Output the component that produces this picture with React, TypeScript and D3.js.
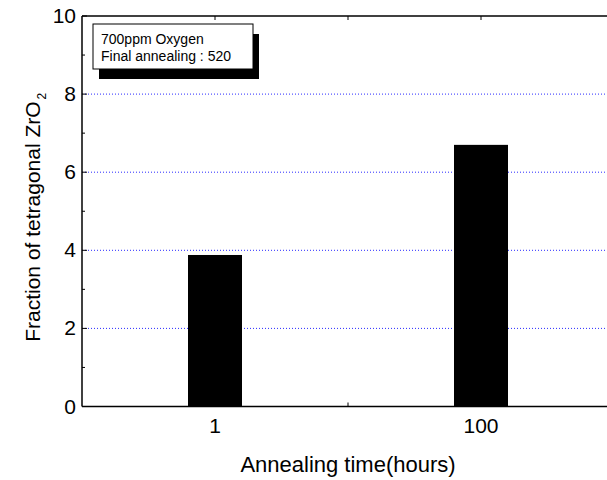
import React, { useEffect, useRef } from 'react';
import * as d3 from 'd3';

const categories = ['1', '100'];
const positions = [1, 3];
const fractions = [3.88, 6.7];
const yTicks = [0, 2, 4, 6, 8, 10];
const gridValues = [2, 4, 6, 8];
const legendLines = ['700ppm Oxygen', 'Final annealing : 520'];

const App = () => {
    const svgRef = useRef<SVGSVGElement>(null);

    useEffect(() => {
        const width = 607;
        const height = 480;
        const left = 82;
        const top = 16;
        const bottom = 406.5;
        const font = 'Arial, "Liberation Sans", sans-serif';

        const svg = d3.select(svgRef.current)
            .attr('width', width)
            .attr('height', height);
        svg.selectAll('*').remove();

        const x = d3.scaleLinear().domain([0, 4]).range([left, 614]);
        const y = d3.scaleLinear().domain([0, 10]).range([bottom, top]);
        const barW = 54;

        // grid lines
        svg.selectAll('.grid')
            .data(gridValues)
            .join('line')
            .attr('x1', left)
            .attr('x2', width)
            .attr('y1', d => y(d))
            .attr('y2', d => y(d))
            .attr('stroke', '#2a2aff')
            .attr('stroke-width', 1)
            .attr('stroke-dasharray', '1,2');

        // bars
        svg.selectAll('.bar')
            .data(fractions)
            .join('rect')
            .attr('x', (d, i) => x(positions[i]) - barW / 2)
            .attr('y', d => y(d))
            .attr('width', barW)
            .attr('height', d => bottom - y(d))
            .attr('fill', '#000');

        // frame
        svg.append('line')
            .attr('x1', left).attr('x2', width)
            .attr('y1', top).attr('y2', top)
            .attr('stroke', '#000').attr('stroke-width', 1.5);
        svg.append('line')
            .attr('x1', left).attr('x2', width)
            .attr('y1', bottom).attr('y2', bottom)
            .attr('stroke', '#000').attr('stroke-width', 1.5);
        svg.append('line')
            .attr('x1', left).attr('x2', left)
            .attr('y1', top).attr('y2', bottom)
            .attr('stroke', '#000').attr('stroke-width', 1.5);

        // y ticks (inside)
        const minor = d3.range(1, 10, 2);
        svg.selectAll('.ymaj')
            .data(yTicks)
            .join('line')
            .attr('x1', left).attr('x2', left + 5)
            .attr('y1', d => y(d)).attr('y2', d => y(d))
            .attr('stroke', '#000').attr('stroke-width', 1);
        svg.selectAll('.ymin')
            .data(minor)
            .join('line')
            .attr('x1', left).attr('x2', left + 3)
            .attr('y1', d => y(d)).attr('y2', d => y(d))
            .attr('stroke', '#000').attr('stroke-width', 1);

        svg.selectAll('.ylab')
            .data(yTicks)
            .join('text')
            .attr('x', left - 6)
            .attr('y', d => y(d) + 7)
            .attr('text-anchor', 'end')
            .style('font-family', font)
            .style('font-size', '21px')
            .text(d => d);

        // x ticks top and bottom
        const xt = [1, 2, 3];
        svg.selectAll('.xtb')
            .data(xt)
            .join('line')
            .attr('x1', d => x(d)).attr('x2', d => x(d))
            .attr('y1', bottom).attr('y2', bottom - 4)
            .attr('stroke', '#000').attr('stroke-width', 1);
        svg.selectAll('.xtt')
            .data(xt)
            .join('line')
            .attr('x1', d => x(d)).attr('x2', d => x(d))
            .attr('y1', top).attr('y2', top + 4)
            .attr('stroke', '#000').attr('stroke-width', 1);

        svg.selectAll('.xlab')
            .data(categories)
            .join('text')
            .attr('x', (d, i) => x(positions[i]))
            .attr('y', 433)
            .attr('text-anchor', 'middle')
            .style('font-family', font)
            .style('font-size', '21px')
            .text(d => d);

        svg.append('text')
            .attr('x', x(2))
            .attr('y', 472)
            .attr('text-anchor', 'middle')
            .style('font-family', font)
            .style('font-size', '22px')
            .text('Annealing time(hours)');

        const yl = svg.append('text')
            .attr('transform', `translate(40, ${(top + bottom) / 2 + 6}) rotate(-90)`)
            .attr('text-anchor', 'middle')
            .style('font-family', font)
            .style('font-size', '21px');
        yl.append('tspan').text('Fraction of tetragonal ZrO');
        yl.append('tspan').attr('dy', 6).attr('dx', 2).style('font-size', '12px').text('2');

        // legend box with shadow
        const bx = 93, by = 24, bw = 160, bh = 45;
        svg.append('rect')
            .attr('x', bx + 6).attr('y', by + 10)
            .attr('width', bw).attr('height', bh)
            .attr('fill', '#000');
        svg.append('rect')
            .attr('x', bx).attr('y', by)
            .attr('width', bw).attr('height', bh)
            .attr('fill', '#fff')
            .attr('stroke', '#000').attr('stroke-width', 1);
        svg.selectAll('.leg')
            .data(legendLines)
            .join('text')
            .attr('x', bx + 8)
            .attr('y', (d, i) => by + 20 + i * 17)
            .style('font-family', font)
            .style('font-size', '14px')
            .text(d => d);
    }, []);

    return <svg ref={svgRef} style={{ position: 'absolute', left: 0, top: 0 }}></svg>;
};

export default App;
